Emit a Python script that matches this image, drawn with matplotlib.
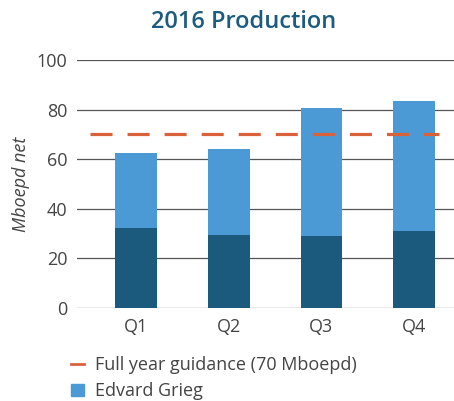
import numpy as np
import matplotlib.pyplot as plt
from matplotlib.lines import Line2D
from matplotlib.patches import Patch

plt.rcParams['font.family'] = ['Open Sans', 'DejaVu Sans']

quarters = ["Q1", "Q2", "Q3", "Q4"]
base = [32.3, 29.4, 29.0, 31.0]          # dark lower part
total = [62.5, 64.1, 80.6, 83.5]         # bar top
edvard_grieg = [t - b for t, b in zip(total, base)]
guidance = 70

dark = "#1b5a7c"
light = "#4b9ad6"
orange = "#d9623b"
grey = "#444444"

fig = plt.figure(figsize=(4.54, 4.01), dpi=100)
ax = fig.add_axes([0.17, 0.232, 0.83, 0.618])

x = np.arange(len(quarters))
ax.bar(x, base, width=0.45, color=dark, zorder=2)
ax.bar(x, edvard_grieg, bottom=base, width=0.45, color=light, zorder=2)
ax.plot([-0.5, 3.27], [guidance, guidance], color=orange, lw=2.3,
        dashes=(6.9, 4.7), zorder=3)

ax.set_xlim(-0.636, 3.43)
ax.set_ylim(0, 100)
ax.set_yticks(range(0, 101, 20))
ax.set_xticks(x, quarters)
ax.grid(axis='y', color='#555555', lw=0.9, zorder=0)
for s in ax.spines.values():
    s.set_visible(False)
ax.tick_params(length=0, labelsize=13, colors=grey, pad=7)
ax.set_ylabel("Mboepd net", fontsize=13, color=grey, style='italic', labelpad=5)

fig.text(0.537, 0.945, "2016 Production", ha='center', va='center',
         fontsize=17, color="#1d5c7e", fontweight='semibold')

handles = [Line2D([], [], color=orange, lw=2),
           Patch(color=light)]
labels = ["Full year guidance (70 Mboepd)", "Edvard Grieg"]
fig.legend(handles, labels, loc='upper left', bbox_to_anchor=(0.14, 0.13),
           frameon=False, fontsize=13, labelcolor=grey, handlelength=0.75,
           handletextpad=0.6, labelspacing=0.45, borderaxespad=0)

fig.savefig("out.png", dpi=100)
